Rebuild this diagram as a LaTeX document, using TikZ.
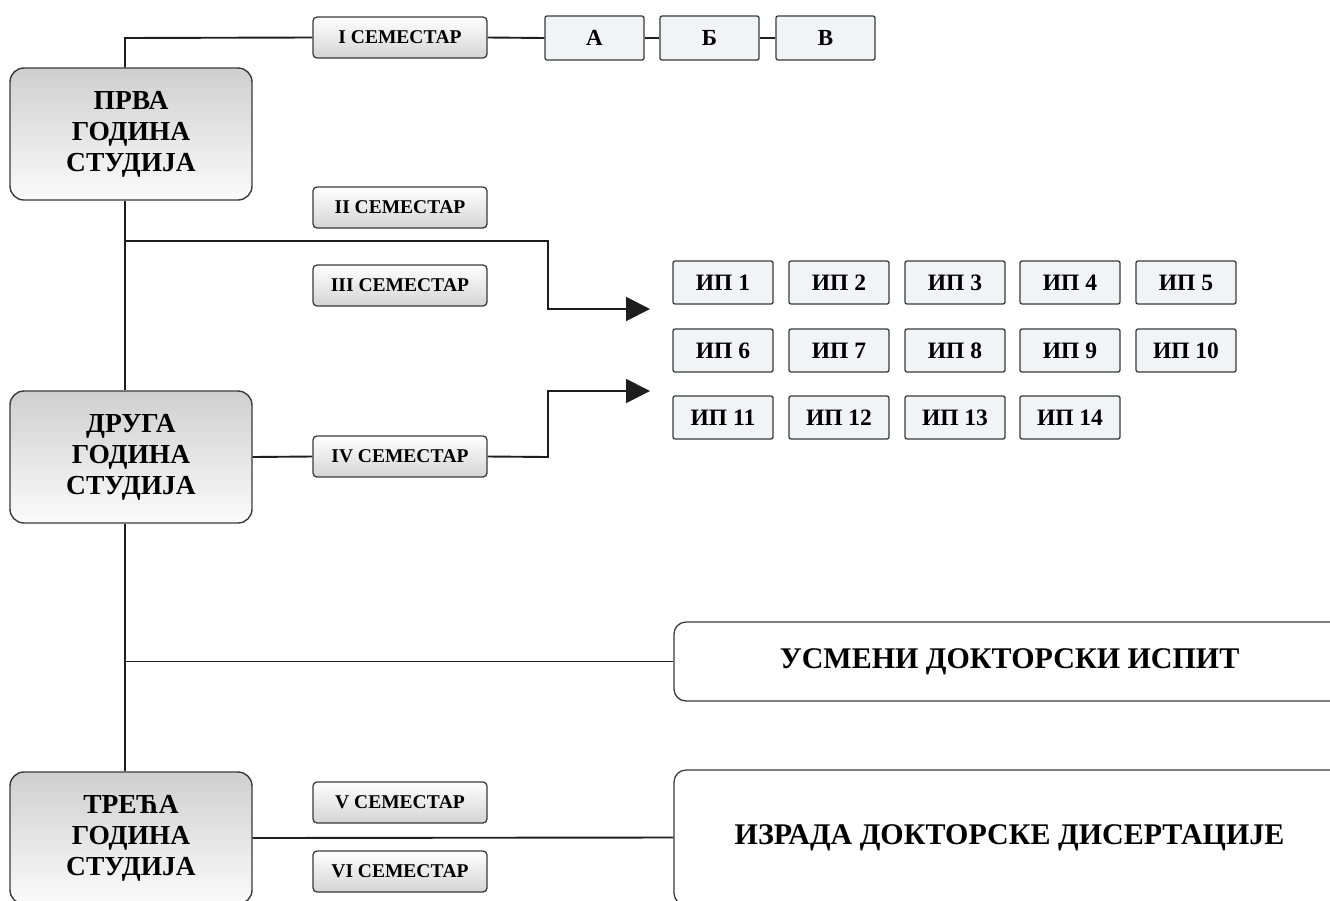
\documentclass[tikz,border=0pt]{standalone}
\usepackage{fontspec}
\setmainfont{Liberation Serif}
\usetikzlibrary{arrows.meta}
\definecolor{edgecol}{HTML}{3A3A3A}
\definecolor{linecol}{HTML}{1E1E1E}
\definecolor{boxfill}{HTML}{F2F3F5}
\definecolor{ytop}{HTML}{CFCFCF}
\definecolor{ybot}{HTML}{FBFBFB}
\definecolor{sbot}{HTML}{D4D4D4}
\begin{document}
\begin{tikzpicture}[x=1pt,y=-1pt,
  yearbox/.style={draw=edgecol, line width=1.4pt, rounded corners=14pt, inner sep=0pt,
    minimum width=242pt, minimum height=132pt, top color=ytop, bottom color=ybot,
    align=center, font=\fontsize{27.5}{31}\selectfont\bfseries},
  sembox/.style={draw=edgecol, line width=1.3pt, rounded corners=4pt, inner sep=0pt,
    minimum width=174pt, minimum height=41pt, top color=white, bottom color=sbot,
    font=\fontsize{19.5}{22}\selectfont\bfseries},
  letbox/.style={draw=edgecol, line width=1.3pt, rounded corners=2pt, inner sep=0pt,
    minimum width=99pt, minimum height=44pt, fill=boxfill,
    font=\fontsize{23}{26}\selectfont\bfseries},
  ipbox/.style={draw=edgecol, line width=1.3pt, rounded corners=2pt, inner sep=0pt,
    minimum width=100pt, minimum height=43pt, fill=boxfill,
    font=\fontsize{23.5}{26}\selectfont\bfseries},
  bigbox/.style={draw=edgecol, line width=1.3pt, rounded corners=12pt, inner sep=0pt,
    minimum width=671pt, fill=white, font=\fontsize{30}{33}\selectfont\bfseries},
  conn/.style={draw=linecol, line width=1.9pt},
  arr/.style={conn, -{Triangle[length=24pt,width=24pt]}}
]
\clip (0,0) rectangle (1330,900);
\fill[white] (0,0) rectangle (1330,900);

% year boxes
\node[yearbox] (y1) at (131,134) {ПРВА\\ГОДИНА\\СТУДИЈА};
\node[yearbox] (y2) at (131,457) {ДРУГА\\ГОДИНА\\СТУДИЈА};
\node[yearbox] (y3) at (131,838) {ТРЕЋА\\ГОДИНА\\СТУДИЈА};

% semesters
\node[sembox] (s1) at (400,37.5) {I СЕМЕСТАР};
\node[sembox] (s2) at (400,207.5) {II СЕМЕСТАР};
\node[sembox] (s3) at (400,285.5) {III СЕМЕСТАР};
\node[sembox] (s4) at (400,456.5) {IV СЕМЕСТАР};
\node[sembox] (s5) at (400,802.5) {V СЕМЕСТАР};
\node[sembox] (s6) at (400,871.5) {VI СЕМЕСТАР};

% A B V
\node[letbox] (la) at (594.5,38) {А};
\node[letbox] (lb) at (709.5,38) {Б};
\node[letbox] (lv) at (825.5,38) {В};

% IP boxes
\node[ipbox] (ip1) at (723,282.5) {ИП 1};
\node[ipbox] (ip2) at (839,282.5) {ИП 2};
\node[ipbox] (ip3) at (955,282.5) {ИП 3};
\node[ipbox] (ip4) at (1070,282.5) {ИП 4};
\node[ipbox] (ip5) at (1186,282.5) {ИП 5};
\node[ipbox] (ip6) at (723,350.5) {ИП 6};
\node[ipbox] (ip7) at (839,350.5) {ИП 7};
\node[ipbox] (ip8) at (955,350.5) {ИП 8};
\node[ipbox] (ip9) at (1070,350.5) {ИП 9};
\node[ipbox] (ip10) at (1186,350.5) {ИП 10};
\node[ipbox] (ip11) at (723,417.5) {ИП 11};
\node[ipbox] (ip12) at (839,417.5) {ИП 12};
\node[ipbox] (ip13) at (955,417.5) {ИП 13};
\node[ipbox] (ip14) at (1070,417.5) {ИП 14};

% big boxes
\node[bigbox, minimum height=79pt] (usm) at (1009.5,661.5) {УСМЕНИ ДОКТОРСКИ ИСПИТ};
\node[bigbox, minimum height=135pt] (izr) at (1009.5,837.5) {ИЗРАДА ДОКТОРСКЕ ДИСЕРТАЦИЈЕ};

% connector points
\coordinate (c0) at (125,38);
\coordinate (j1) at (125,241);
\coordinate (b1) at (548,241);
\coordinate (b2) at (548,309);
\coordinate (t1) at (650,309);
\coordinate (b3) at (548,457);
\coordinate (b4) at (548,391);
\coordinate (t2) at (650,391);
\coordinate (j2) at (125,661.5);

% connectors
\draw[conn] ([xshift=-6pt]y1.north) -- (c0) -- (s1.west);
\draw[conn] (s1.east) -- (la.west);
\draw[conn] (la.east) -- (lb.west);
\draw[conn] (lb.east) -- (lv.west);
\draw[conn] ([xshift=-6pt]y1.south) -- ([xshift=-6pt]y2.north);
\draw[arr] (j1) -- (b1) -- (b2) -- (t1);
\draw[conn] (y2.east) -- (s4.west);
\draw[arr] (s4.east) -- (b3) -- (b4) -- (t2);
\draw[conn] ([xshift=-6pt]y2.south) -- ([xshift=-6pt]y3.north);
\draw[conn] (j2) -- (usm.west);
\draw[conn] (y3.east) -- (izr.west);
\end{tikzpicture}
\end{document}
